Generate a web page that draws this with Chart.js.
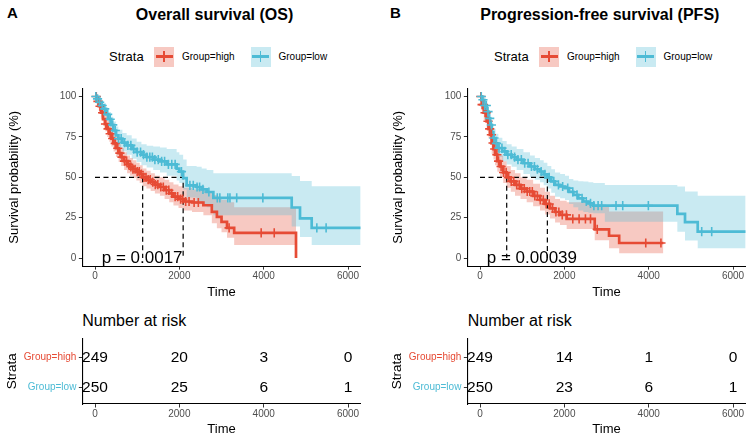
<!DOCTYPE html>
<html>
<head>
<meta charset="utf-8">
<script src="https://cdn.jsdelivr.net/npm/chart.js@4.4.1/dist/chart.umd.min.js"></script>
<style>
  body { margin: 0; width: 753px; height: 442px; background: #fff; position: relative; overflow: hidden;
         font-family: "Liberation Sans", Arial, Helvetica, sans-serif; color: #000; }
  .abs { position: absolute; line-height: 1; white-space: nowrap; }
  .bold { font-weight: bold; }
  .center { text-align: center; width: 300px; }
  canvas { position: absolute; }
  .key { position: absolute; width: 20px; height: 20px; }
  .key::before { content: ''; position: absolute; left: 1.5px; right: 1.5px; top: 8.5px; height: 3px; }
  .key::after { content: ''; position: absolute; left: 9.2px; width: 1.6px; top: 4.7px; height: 10.6px; }
  .key.red { background: rgba(230,75,53,0.3); }
  .key.red::before, .key.red::after { background: #E64B35; }
  .key.blue { background: rgba(77,187,213,0.3); }
  .key.blue::before, .key.blue::after { background: #4DBBD5; }
</style>
</head>
<body>
<div class="abs bold" style="left:7px;top:4.5px;font-size:15px">A</div>
<div class="abs bold center" style="left:64.5px;top:7.2px;font-size:16px">Overall survival (OS)</div>
<div class="abs bold" style="left:390px;top:4.5px;font-size:15px">B</div>
<div class="abs bold center" style="left:449.8px;top:7.2px;font-size:16px">Progression-free survival (PFS)</div>

<div class="abs" style="left:109px;top:50.1px;font-size:13px">Strata</div>
<div class="key red" style="left:154px;top:46.5px"></div>
<div class="abs" style="left:182px;top:51.6px;font-size:10px">Group=high</div>
<div class="key blue" style="left:250.5px;top:46.5px"></div>
<div class="abs" style="left:278.5px;top:51.6px;font-size:10px">Group=low</div>

<div class="abs" style="left:494px;top:50.1px;font-size:13px">Strata</div>
<div class="key red" style="left:539px;top:46.5px"></div>
<div class="abs" style="left:567px;top:51.6px;font-size:10px">Group=high</div>
<div class="key blue" style="left:635.5px;top:46.5px"></div>
<div class="abs" style="left:663.5px;top:51.6px;font-size:10px">Group=low</div>

<div class="abs" style="left:82.3px;top:313.2px;font-size:16px">Number at risk</div>
<div class="abs" style="left:467.7px;top:313.2px;font-size:16px">Number at risk</div>

<canvas id="km-os" width="376" height="230" style="left:0;top:80px"></canvas>
<canvas id="risk-os" width="376" height="112" style="left:0;top:330px"></canvas>
<canvas id="km-pfs" width="367" height="230" style="left:386px;top:80px"></canvas>
<canvas id="risk-pfs" width="367" height="112" style="left:386px;top:330px"></canvas>

<script>
// tick labels and strata
const xTicks = [0, 2000, 4000, 6000];
const yTicks = [0, 25, 50, 75, 100];
const riskTimes = [0, 2000, 4000, 6000];
const strata = ['Group=high', 'Group=low'];

// Overall survival
const osHighTime  = [0, 40, 90, 140, 190, 240, 290, 340, 390, 440, 500, 560, 620, 690, 760, 830, 900, 980, 1060, 1130, 1220, 1320, 1420, 1540, 1650, 1760, 1860, 1980, 2100, 2300, 2570, 2770, 2890, 3000, 3130, 3300, 4766];
const osHighSurv  = [100, 97, 94, 90, 86, 83, 80, 77, 74, 71, 68, 65, 62.5, 60, 58, 56.5, 55, 53.5, 52, 50, 48.5, 47, 45.5, 44, 42, 40, 38, 36.5, 35, 34.4, 32.7, 28.6, 25.5, 22.4, 18.7, 15.6, 0];
const osHighUpper = [100, 99, 97, 94, 91, 88, 85, 82, 79, 76.5, 73.5, 70.5, 68, 65.5, 63.5, 62, 60.5, 59, 57.5, 55.5, 54, 52.5, 51, 50, 48.5, 47, 45.5, 44.5, 43.5, 42.5, 41.5, 39, 37.5, 36, 34.5, 31.5, 31.5];
const osHighLower = [100, 95, 91, 86, 82, 78.5, 75, 72, 69, 66, 62.5, 59.5, 57, 54.5, 52.5, 51, 49.5, 48, 46.5, 44.5, 43, 41.5, 40, 38.5, 36.5, 34.5, 32.5, 31, 29.5, 28.5, 26.5, 21.5, 18.5, 16, 12.5, 8, 8];
const osHighCensor = [30, 70, 120, 180, 250, 310, 360, 420, 480, 540, 590, 640, 700, 750, 800, 850, 900, 950, 1000, 1050, 1100, 1160, 1210, 1260, 1310, 1370, 1430, 1490, 1560, 1620, 1690, 1750, 1820, 1900, 1960, 2030, 2080, 2150, 2230, 2350, 2450, 3180, 3940, 4250];

const osLowTime  = [0, 40, 100, 150, 200, 260, 316, 380, 435, 500, 553, 650, 751, 870, 988, 1100, 1225, 1380, 1541, 1700, 1936, 2000, 2090, 2173, 2410, 2530, 2647, 2806, 4664, 4861, 5138, 6300];
const osLowSurv  = [100, 98.6, 96.5, 94.5, 92.4, 89, 86, 82.5, 79, 76, 73.9, 71.5, 69.8, 67.5, 65.6, 64, 62.5, 61, 59.9, 58, 55.4, 53.5, 49.5, 45, 44, 42.5, 40.9, 37.2, 31.3, 24.5, 18.7, 18.7];
const osLowUpper = [100, 100, 99, 97.5, 96, 93, 90.5, 87.5, 84.5, 81.5, 79.5, 77.5, 76, 74, 72, 70.5, 69.5, 69, 68.5, 67.5, 65.5, 64, 61, 57, 56.5, 55.5, 54.5, 52.5, 50.8, 47.7, 44.4, 44.4];
const osLowLower = [100, 97, 93.5, 91, 88.5, 85, 81.5, 77.5, 74, 70.5, 68.5, 66, 64, 61.5, 59.5, 57.5, 56, 54.5, 53, 51, 48, 46.5, 42.5, 37.5, 35, 33.5, 31.5, 26.5, 19.5, 13, 8, 8];
const osLowCensor = [20, 60, 110, 170, 230, 300, 360, 420, 480, 560, 620, 700, 780, 850, 920, 1000, 1080, 1150, 1230, 1300, 1360, 1420, 1500, 1580, 1650, 1740, 1820, 1900, 2050, 2250, 2330, 2420, 2480, 2560, 2700, 2900, 2960, 3150, 3200, 3360, 3980, 5260, 5480];

const osMedian = [1130, 2090];
const osPval = 'p = 0.0017';
const osRiskHigh = [249, 20, 3, 0];
const osRiskLow = [250, 25, 6, 1];

// Progression-free survival
const pfsHighTime  = [0, 40, 90, 158, 200, 237, 277, 320, 356, 410, 474, 550, 633, 730, 830, 960, 1107, 1260, 1423, 1540, 1660, 1780, 1897, 2055, 2720, 3060, 3300, 4347];
const pfsHighSurv  = [100, 95, 90, 84.7, 80, 76.4, 71.2, 67.5, 64, 60, 56.7, 53, 49.9, 47.5, 45.3, 43, 41.2, 38.5, 36, 33.5, 30.8, 28.5, 26.7, 24.2, 17.8, 13.8, 9.3, 9.3];
const pfsHighUpper = [100, 98, 95, 90.5, 86.5, 83, 78, 74.5, 71, 67, 63.5, 60, 57, 54.5, 52.5, 50, 48.5, 46, 43.5, 41, 38.5, 36.5, 35.5, 34.6, 31.9, 28.8, 28.8, 28.8];
const pfsHighLower = [100, 91.5, 85.5, 79, 74, 70, 64.5, 61, 57.5, 53.5, 50, 46.5, 43.5, 41, 38.5, 36.5, 34.5, 32, 29.5, 27, 24.5, 22, 20.5, 18, 11, 6, 3, 3];
const pfsHighCensor = [20, 50, 80, 120, 150, 190, 230, 270, 310, 350, 400, 440, 500, 560, 620, 680, 740, 800, 870, 930, 990, 1050, 1120, 1180, 1240, 1300, 1360, 1430, 1500, 1570, 1640, 1720, 1800, 1870, 1950, 2050, 2200, 2350, 2500, 2620, 2780, 3930, 4290];

const pfsLowTime  = [0, 40, 100, 158, 200, 237, 280, 316, 370, 435, 530, 633, 750, 870, 1030, 1186, 1300, 1423, 1510, 1597, 1690, 1778, 1900, 2016, 2110, 2213, 2330, 2450, 2570, 2687, 2960, 4679, 4861, 5162, 6300];
const pfsLowSurv  = [100, 98, 94.5, 90.7, 86.5, 82.4, 78, 74.3, 71, 68.1, 66, 64, 62.5, 60.9, 58.7, 56.7, 55, 53.6, 51.8, 49.9, 47.5, 45.3, 44.3, 43.3, 41, 39.1, 37, 35, 33.8, 32.5, 32.5, 27.3, 22.2, 16.3, 16.3];
const pfsLowUpper = [100, 100, 97.5, 94.5, 91, 87.5, 83.5, 80, 77, 74.5, 72.5, 70.5, 69, 67.5, 65.5, 63.5, 62, 60.5, 59, 57, 55, 53, 52, 51, 49, 48, 47.5, 47.4, 47, 46.5, 45.3, 44.3, 41.2, 38.5, 38.5];
const pfsLowLower = [100, 96, 91, 86.5, 82, 77.5, 73, 69, 65.5, 62.5, 60, 58, 56.5, 54.5, 52, 50, 48.5, 47, 45, 43, 40.5, 38, 37, 36, 33.5, 31.5, 29.5, 28.5, 28, 27.8, 22.5, 16.3, 10.8, 6, 6];
const pfsLowCensor = [30, 70, 110, 150, 190, 230, 270, 330, 390, 450, 520, 590, 660, 740, 820, 900, 980, 1060, 1140, 1220, 1290, 1360, 1450, 1540, 1640, 1750, 1860, 1960, 2080, 2200, 2300, 2420, 2520, 2620, 2700, 2800, 2885, 3225, 3384, 3992, 5257, 5494];

const pfsMedian = [633, 1597];
const pfsPval = 'p = 0.00039';
const pfsRiskHigh = [249, 14, 1, 0];
const pfsRiskLow = [250, 23, 6, 1];

const RED = '#E64B35', BLUE = '#4DBBD5';
const RED_BAND = 'rgba(230,75,53,0.3)', BLUE_BAND = 'rgba(77,187,213,0.3)';
const FONT = '"Liberation Sans", Arial, Helvetica, sans-serif';

Chart.defaults.font.family = FONT;
Chart.defaults.animation = false;
Chart.defaults.events = [];
Chart.defaults.plugins.legend.display = false;
Chart.defaults.plugins.tooltip.enabled = false;

function pts(xs, ys) {
    return xs.map((x, i) => ({ x: x, y: ys[i] }));
}

function stepAt(times, surv, t) {
    let s = surv[0];
    for (let i = 0; i < times.length && times[i] <= t; i++) s = surv[i];
    return s;
}

function xScale(height, titlePad) {
    return {
        type: 'linear', min: -300, max: 6300,
        afterBuildTicks: s => { s.ticks = xTicks.map(v => ({ value: v })); },
        afterFit: s => { s.height = height; },
        ticks: { font: { size: 10 }, color: '#4D4D4D', padding: 1, maxRotation: 0, autoSkip: false, callback: v => String(v) },
        grid: { drawOnChartArea: false, tickLength: 3.5, color: '#333' },
        border: { display: true, color: '#000', width: 1.1 },
        title: { display: true, text: 'Time', color: '#000', font: { size: 13 }, padding: { top: 0, bottom: titlePad } }
    };
}

function makeKm(id, g, p) {
    const band = (times, vals, color, order) => ({
        data: pts(times, vals), stepped: true, borderWidth: 0, borderColor: 'transparent',
        backgroundColor: color, fill: color ? '+1' : false, pointRadius: 0, order: order
    });
    const curve = (times, surv, color, order) => ({
        data: pts(times, surv), stepped: true, borderColor: color, borderWidth: 2.7,
        pointRadius: 0, fill: false, order: order
    });
    const censor = (times, surv, cens, color, order) => ({
        data: cens.map(t => ({ x: t, y: stepAt(times, surv, t) })), showLine: false,
        pointStyle: 'cross', pointRadius: 4.6, pointBorderWidth: 1.6, pointBorderColor: color,
        borderColor: color, order: order
    });
    const mLo = Math.min(...g.median), mHi = Math.max(...g.median);
    const dash = { borderColor: '#000', borderWidth: 1.2, borderDash: [5, 3.5], pointRadius: 0, fill: false, order: 5 };

    new Chart(document.getElementById(id), {
        type: 'line',
        data: {
            datasets: [
                band(g.highTime, g.highUpper, RED_BAND, 10),
                band(g.highTime, g.highLower, null, 10),
                band(g.lowTime, g.lowUpper, BLUE_BAND, 9),
                band(g.lowTime, g.lowLower, null, 9),
                Object.assign({ data: [{ x: 0, y: 50 }, { x: mHi, y: 50 }, { x: mHi, y: 0 }] }, dash),
                Object.assign({ data: [{ x: mLo, y: 50 }, { x: mLo, y: 0 }] }, dash),
                curve(g.highTime, g.highSurv, RED, 3),
                curve(g.lowTime, g.lowSurv, BLUE, 2),
                censor(g.highTime, g.highSurv, g.highCensor, RED, 1),
                censor(g.lowTime, g.lowSurv, g.lowCensor, BLUE, 0)
            ]
        },
        options: {
            responsive: false,
            layout: { padding: { top: 8.4, right: p.padRight, left: 0, bottom: 0 } },
            scales: {
                x: xScale(43.9, 10.2),
                y: {
                    type: 'linear', min: -5, max: 105,
                    afterBuildTicks: s => { s.ticks = yTicks.map(v => ({ value: v })); },
                    afterFit: s => { s.width = p.yWidth; },
                    ticks: { font: { size: 10 }, color: '#4D4D4D', padding: 2.5 },
                    grid: { drawOnChartArea: false, tickLength: 3.5, color: '#333' },
                    border: { display: true, color: '#000', width: 1.1 },
                    title: { display: true, text: 'Survival probability (%)', color: '#000', font: { size: 13 }, padding: { top: p.yTitlePad, bottom: 0 } }
                }
            }
        },
        plugins: [{
            id: 'pval',
            afterDatasetsDraw(chart) {
                const ctx = chart.ctx;
                ctx.save();
                ctx.font = '17px ' + FONT;
                ctx.fillStyle = '#000';
                ctx.textAlign = 'left';
                ctx.textBaseline = 'middle';
                ctx.fillText(g.pval, chart.scales.x.getPixelForValue(160), chart.scales.y.getPixelForValue(0));
                ctx.restore();
            }
        }]
    });
}

function makeRisk(id, high, low, p) {
    const row = (counts, y) => ({ data: riskTimes.map(t => ({ x: t, y: y })), counts: counts, showLine: false, pointRadius: 0 });
    new Chart(document.getElementById(id), {
        type: 'line',
        data: { datasets: [row(high, 2), row(low, 1)] },
        options: {
            responsive: false,
            layout: { padding: { top: 6.7, right: p.padRight, left: 0, bottom: 0 } },
            scales: {
                x: xScale(38, 4.7),
                y: {
                    type: 'linear', min: 0.45, max: 2.63,
                    afterBuildTicks: s => { s.ticks = [{ value: 1 }, { value: 2 }]; },
                    afterFit: s => { s.width = p.yWidth; },
                    ticks: {
                        font: { size: 10 }, padding: 2.5,
                        color: c => c.tick && c.tick.value === 2 ? RED : BLUE,
                        callback: v => strata[2 - v]
                    },
                    grid: { drawOnChartArea: false, tickLength: 3.5, color: '#333' },
                    border: { display: true, color: '#000', width: 1.1 },
                    title: { display: true, text: 'Strata', color: '#000', font: { size: 13.5 }, padding: { top: p.strataPad, bottom: 0 } }
                }
            }
        },
        plugins: [{
            id: 'riskText',
            afterDatasetsDraw(chart) {
                const ctx = chart.ctx;
                ctx.save();
                ctx.font = '15.5px ' + FONT;
                ctx.fillStyle = '#000';
                ctx.textAlign = 'center';
                ctx.textBaseline = 'middle';
                chart.data.datasets.forEach((ds, i) => {
                    chart.getDatasetMeta(i).data.forEach((el, j) => ctx.fillText(String(ds.counts[j]), el.x, el.y));
                });
                ctx.restore();
            }
        }]
    });
}

document.addEventListener('DOMContentLoaded', function() {
    const panelA = { yWidth: 82.35, padRight: 15.3, yTitlePad: 6.2, strataPad: 4.3 };
    const panelB = { yWidth: 81.35, padRight: 7.3, yTitlePad: 4.2, strataPad: 3.3 };

    makeKm('km-os', {
        highTime: osHighTime, highSurv: osHighSurv, highUpper: osHighUpper, highLower: osHighLower, highCensor: osHighCensor,
        lowTime: osLowTime, lowSurv: osLowSurv, lowUpper: osLowUpper, lowLower: osLowLower, lowCensor: osLowCensor,
        median: osMedian, pval: osPval
    }, panelA);
    makeRisk('risk-os', osRiskHigh, osRiskLow, panelA);

    makeKm('km-pfs', {
        highTime: pfsHighTime, highSurv: pfsHighSurv, highUpper: pfsHighUpper, highLower: pfsHighLower, highCensor: pfsHighCensor,
        lowTime: pfsLowTime, lowSurv: pfsLowSurv, lowUpper: pfsLowUpper, lowLower: pfsLowLower, lowCensor: pfsLowCensor,
        median: pfsMedian, pval: pfsPval
    }, panelB);
    makeRisk('risk-pfs', pfsRiskHigh, pfsRiskLow, panelB);
});
</script>
</body>
</html>
